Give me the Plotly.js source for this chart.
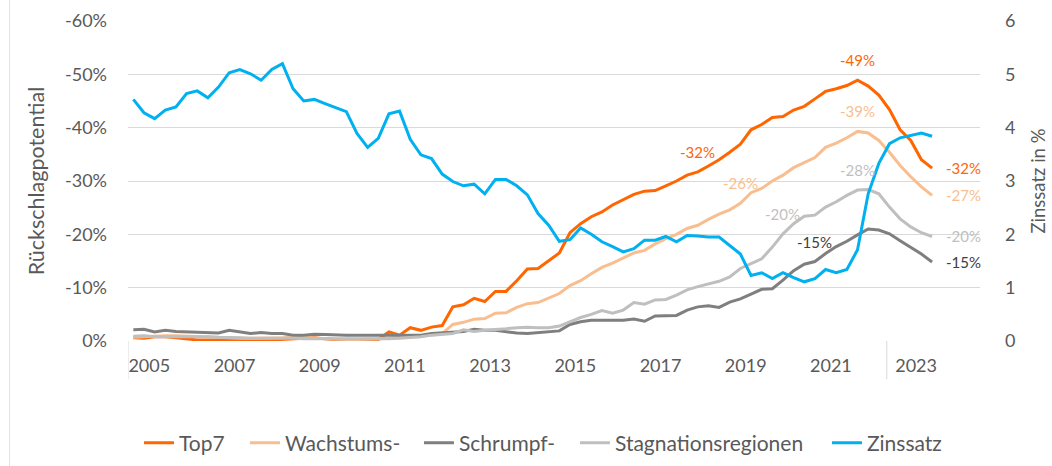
<!DOCTYPE html>
<html><head><meta charset="utf-8">
<script src="https://cdn.plot.ly/plotly-3.0.1.min.js"></script>
<style>html,body{margin:0;padding:0;background:#fff;}#chart{width:1052px;height:466px;}</style>
</head><body><div id="chart"></div>
<script>
// Quarterly categories 2005 Q1 .. 2023 Q4
const years = [2005,2006,2007,2008,2009,2010,2011,2012,2013,2014,2015,2016,2017,2018,2019,2020,2021,2022,2023];
const quarterNames = ['Q1','Q2','Q3','Q4'];
const yearLabels = ['2005','2007','2009','2011','2013','2015','2017','2019','2021','2023'];

// Rückschlagpotential in % (negative values)
const top7 = [-0.6,-0.5,-0.8,-0.8,-0.6,-0.4,-0.2,-0.2,-0.3,-0.3,
  -0.3,-0.2,-0.1,-0.2,-0.3,-0.4,-0.5,-0.6,-0.4,-0.2,
  -0.1,-0.1,-0.2,-0.3,-1.7,-1.1,-2.5,-2.0,-2.6,-2.9,
  -6.4,-6.8,-8.0,-7.4,-9.3,-9.3,-11.3,-13.5,-13.6,-15.1,
  -16.5,-20.3,-22.0,-23.3,-24.2,-25.5,-26.5,-27.5,-28.1,-28.2,
  -29.1,-30.0,-31.1,-31.7,-32.8,-34.0,-35.4,-36.9,-39.6,-40.6,
  -41.9,-42.1,-43.3,-44.0,-45.4,-46.8,-47.3,-47.9,-48.9,-47.8,
  -46.1,-43.4,-39.6,-37.6,-34.0,-32.4];
const wachstum = [-0.7,-0.8,-1.0,-1.0,-1.0,-0.9,-0.8,-0.7,-0.6,-0.6,
  -0.5,-0.5,-0.5,-0.6,-0.6,-0.7,-0.6,-0.5,-0.4,-0.3,
  -0.3,-0.3,-0.3,-0.4,-0.5,-0.6,-0.7,-0.9,-1.1,-1.4,
  -3.1,-3.5,-4.1,-4.2,-5.2,-5.3,-6.3,-7.0,-7.2,-8.0,
  -8.9,-10.4,-11.3,-12.6,-13.8,-14.6,-15.6,-16.5,-17.0,-18.2,
  -19.2,-20.0,-21.1,-21.7,-22.8,-23.8,-24.6,-25.8,-27.8,-28.6,
  -30.0,-31.1,-32.5,-33.4,-34.4,-36.3,-37.1,-38.1,-39.3,-39.0,
  -37.6,-35.4,-32.9,-30.8,-28.9,-27.3];
const schrumpf = [-2.1,-2.2,-1.7,-2.0,-1.8,-1.7,-1.6,-1.6,-1.5,-2.0,
  -1.7,-1.4,-1.6,-1.4,-1.4,-1.1,-1.1,-1.25,-1.2,-1.1,
  -1.1,-1.1,-1.1,-1.1,-1.1,-1.1,-1.1,-1.1,-1.4,-1.5,
  -1.7,-1.8,-2.2,-2.0,-2.0,-1.7,-1.5,-1.4,-1.6,-1.7,
  -1.9,-3.1,-3.6,-3.9,-3.9,-3.8,-3.9,-4.1,-3.7,-4.7,
  -4.8,-4.8,-5.8,-6.4,-6.6,-6.3,-7.3,-7.9,-8.8,-9.7,
  -9.8,-11.4,-13.2,-14.4,-14.9,-16.4,-17.7,-18.7,-19.9,-21.0,
  -20.8,-20.1,-18.8,-17.6,-16.3,-14.8];
const stagnation = [-0.9,-1.0,-0.8,-0.8,-0.9,-0.9,-0.8,-0.8,-0.7,-0.7,
  -0.6,-0.5,-0.5,-0.6,-0.5,-0.5,-0.4,-0.4,-0.4,-0.3,
  -0.3,-0.3,-0.4,-0.4,-0.4,-0.5,-0.6,-0.8,-1.1,-1.2,
  -1.4,-2.1,-1.8,-2.0,-2.1,-2.3,-2.5,-2.6,-2.5,-2.5,
  -2.8,-3.6,-4.4,-5.0,-5.7,-5.2,-5.8,-7.2,-6.9,-7.7,
  -7.8,-8.6,-9.6,-10.2,-10.7,-11.2,-12.0,-13.6,-14.5,-15.4,
  -17.6,-20.1,-22.0,-23.4,-23.6,-25.1,-26.1,-27.3,-28.3,-28.4,
  -27.6,-25.1,-22.9,-21.4,-20.3,-19.6];
// Zinssatz in %
const zinssatz = [4.53,4.28,4.17,4.33,4.39,4.64,4.69,4.56,4.76,5.03,
  5.09,5.01,4.89,5.09,5.20,4.73,4.50,4.53,4.45,4.38,
  4.30,3.89,3.63,3.80,4.26,4.31,3.78,3.49,3.42,3.13,
  2.99,2.91,2.94,2.76,3.03,3.03,2.91,2.74,2.39,2.17,
  1.87,1.90,2.12,2.00,1.86,1.77,1.67,1.73,1.89,1.89,
  1.96,1.86,1.98,1.97,1.95,1.95,1.79,1.63,1.23,1.28,
  1.17,1.28,1.19,1.11,1.17,1.34,1.28,1.34,1.71,2.76,
  3.33,3.70,3.81,3.86,3.90,3.84];

const quarters = [];
years.forEach(y => quarterNames.forEach(q => quarters.push(y + ' ' + q)));
const xIdx = quarters.map((q, i) => i);

const FONT = 'Lato, "Open Sans", sans-serif';
const TXT = '#595959';
const C = {top7:'#FF6600', wach:'#F9BE8F', schr:'#7F7F7F', stag:'#BFBFBF', zins:'#00B0F0'};

function tr(name, y, color, legendId, axis) {
  return {x: xIdx, y: y, name: name, type: 'scatter', mode: 'lines',
    line: {color: color, width: 3}, yaxis: axis || 'y', hoverinfo: 'skip',
    text: quarters, legend: legendId};
}
const data = [
  tr('Top7', top7, C.top7, 'legend'),
  tr('Wachstums-', wachstum, C.wach, 'legend2'),
  tr('Schrumpf-', schrumpf, C.schr, 'legend3'),
  tr('Stagnationsregionen', stagnation, C.stag, 'legend4'),
  tr('Zinssatz', zinssatz, C.zins, 'legend5', 'y2')
];

// data labels: [series, index, color, placement]
const labelDefs = [
  [top7, 53, C.top7, 'above'], [top7, 68, C.top7, 'above'], [top7, 75, C.top7, 'right'],
  [wachstum, 57, C.wach, 'above'], [wachstum, 68, C.wach, 'above'], [wachstum, 75, C.wach, 'right'],
  [stagnation, 61, C.stag, 'above'], [stagnation, 68, C.stag, 'above'], [stagnation, 75, C.stag, 'right'],
  [schrumpf, 64, '#404040', 'above'], [schrumpf, 75, '#404040', 'right']
];
const annotations = labelDefs.map(d => {
  const v = d[0][d[1]];
  const a = {x: d[1], y: v, xref: 'x', yref: 'y', text: Math.round(v) + '%', showarrow: false,
    font: {family: FONT, size: 15, color: d[2]}};
  if (d[3] === 'above') { a.yshift = 20; a.xanchor = 'center'; }
  else { a.xanchor = 'left'; a.xshift = 12; }
  return a;
});

const leftVals = [0,-10,-20,-30,-40,-50,-60];
const leftText = ['0%','-10%','-20%','-30%','-40%','-50%','-60%'];
const tickPos = yearLabels.map((y, k) => 1.5 + 8 * k);

function leg(x) {
  return {orientation: 'h', x: x, xanchor: 'left', y: -0.319, yanchor: 'middle',
    font: {family: FONT, size: 21, color: TXT}, bgcolor: 'rgba(0,0,0,0)'};
}

const layout = {
  width: 1052, height: 466,
  margin: {l: 128, r: 72, t: 21, b: 125, autoexpand: false},
  paper_bgcolor: '#fff', plot_bgcolor: '#fff',
  font: {family: FONT, color: TXT, size: 18},
  showlegend: true,
  legend: leg(0.0129),
  legend2: leg(0.1373),
  legend3: leg(0.3415),
  legend4: leg(0.5246),
  legend5: leg(0.8204),
  xaxis: {range: [-0.5, 79.5], tickvals: tickPos, ticktext: yearLabels, showgrid: false,
    zeroline: false, showline: false, ticks: '', tickfont: {size: 18, color: TXT},
    ticklabelstandoff: 12, fixedrange: true},
  yaxis: {range: [0, -60], tickvals: leftVals, ticktext: leftText, showgrid: true,
    gridcolor: '#D9D9D9', gridwidth: 1, zeroline: false, showline: false, ticks: '',
    tickfont: {size: 18, color: TXT}, ticklabelstandoff: 20,
    title: {text: 'Rückschlagpotential', font: {size: 21.5, color: TXT}, standoff: 14}},
  yaxis2: {range: [0, 6], dtick: 1, overlaying: 'y', side: 'right', showgrid: false,
    zeroline: false, showline: false, ticks: '', tickfont: {size: 18, color: TXT},
    ticklabelstandoff: 24,
    title: {text: 'Zinssatz in %', font: {size: 18.5, color: TXT}, standoff: 17}},
  annotations: annotations,
  shapes: [
    {type: 'line', xref: 'x', yref: 'paper', x0: -0.5, x1: -0.5, y0: 0, y1: -0.12, line: {color: '#D9D9D9', width: 1}},
    {type: 'line', xref: 'x', yref: 'paper', x0: 70.75, x1: 70.75, y0: 0, y1: -0.12, line: {color: '#D9D9D9', width: 1}},
    {type: 'line', xref: 'paper', yref: 'paper', x0: -0.139, x1: -0.139, y0: -0.4, y1: 1.07, line: {color: '#E3E3E3', width: 1}}
  ]
};

Plotly.newPlot('chart', data, layout, {displayModeBar: false, staticPlot: true});
</script>
</body></html>
